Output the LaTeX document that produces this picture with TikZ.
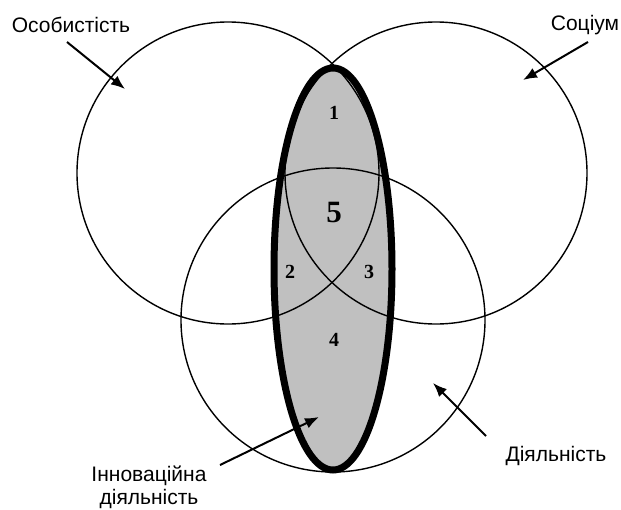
\documentclass[tikz,border=0pt]{standalone}
\usepackage{fontspec}
\setmainfont{Liberation Sans}
\newfontfamily\numfont{Liberation Serif}
\usetikzlibrary{arrows.meta}
\definecolor{innfill}{RGB}{192,192,192}
\tikzset{
  sphere/.style={line width=1.4pt},
  lbl/.style={font=\fontsize{21}{23}\selectfont, inner sep=1pt},
  num/.style={font=\numfont\bfseries\fontsize{20}{22}\selectfont, inner sep=1pt},
  arr/.style={line width=2pt, -{Latex[length=14pt,width=11pt]}}
}
\begin{document}
\begin{tikzpicture}[x=1pt,y=-1pt]
\useasboundingbox (0,0) rectangle (621,509);
% Innovation region
\fill[innfill] (333,269) ellipse (59pt and 201pt);
% Spheres
\draw[sphere] (228,173) circle (151pt);
\draw[sphere] (436,173) circle (151pt);
\draw[sphere] (333,320) circle (152pt);
\draw[line width=7pt] (333,269) ellipse (59pt and 201pt);
% Region numbers
\node[num] (n1) at (334,113) {1};
\node[num, font=\numfont\bfseries\fontsize{31}{33}\selectfont] (n5) at (334,212) {5};
\node[num] (n2) at (290,272) {2};
\node[num] (n3) at (369,272) {3};
\node[num] (n4) at (334,340) {4};
% Labels
\node[lbl] (osob) at (71,25) {Особистість};
\node[lbl] (soc) at (585,25) {Соціум};
\node[lbl] (dial) at (556,456) {Діяльність};
\node[lbl, align=center] (innov) at (149,487) {Інноваційна\\діяльність};
% Annotations
\coordinate (osobtail) at (67,42);
\coordinate (osobtip) at (125,89);
\coordinate (soctail) at (588,42);
\coordinate (soctip) at (523,80);
\coordinate (dialtail) at (486,436);
\coordinate (dialtip) at (433,383);
\coordinate (innovtail) at (220,465);
\coordinate (innovtip) at (319,417);
\draw[arr] (osobtail) -- (osobtip);
\draw[arr] (soctail) -- (soctip);
\draw[arr] (dialtail) -- (dialtip);
\draw[arr] (innovtail) -- (innovtip);
\end{tikzpicture}
\end{document}
